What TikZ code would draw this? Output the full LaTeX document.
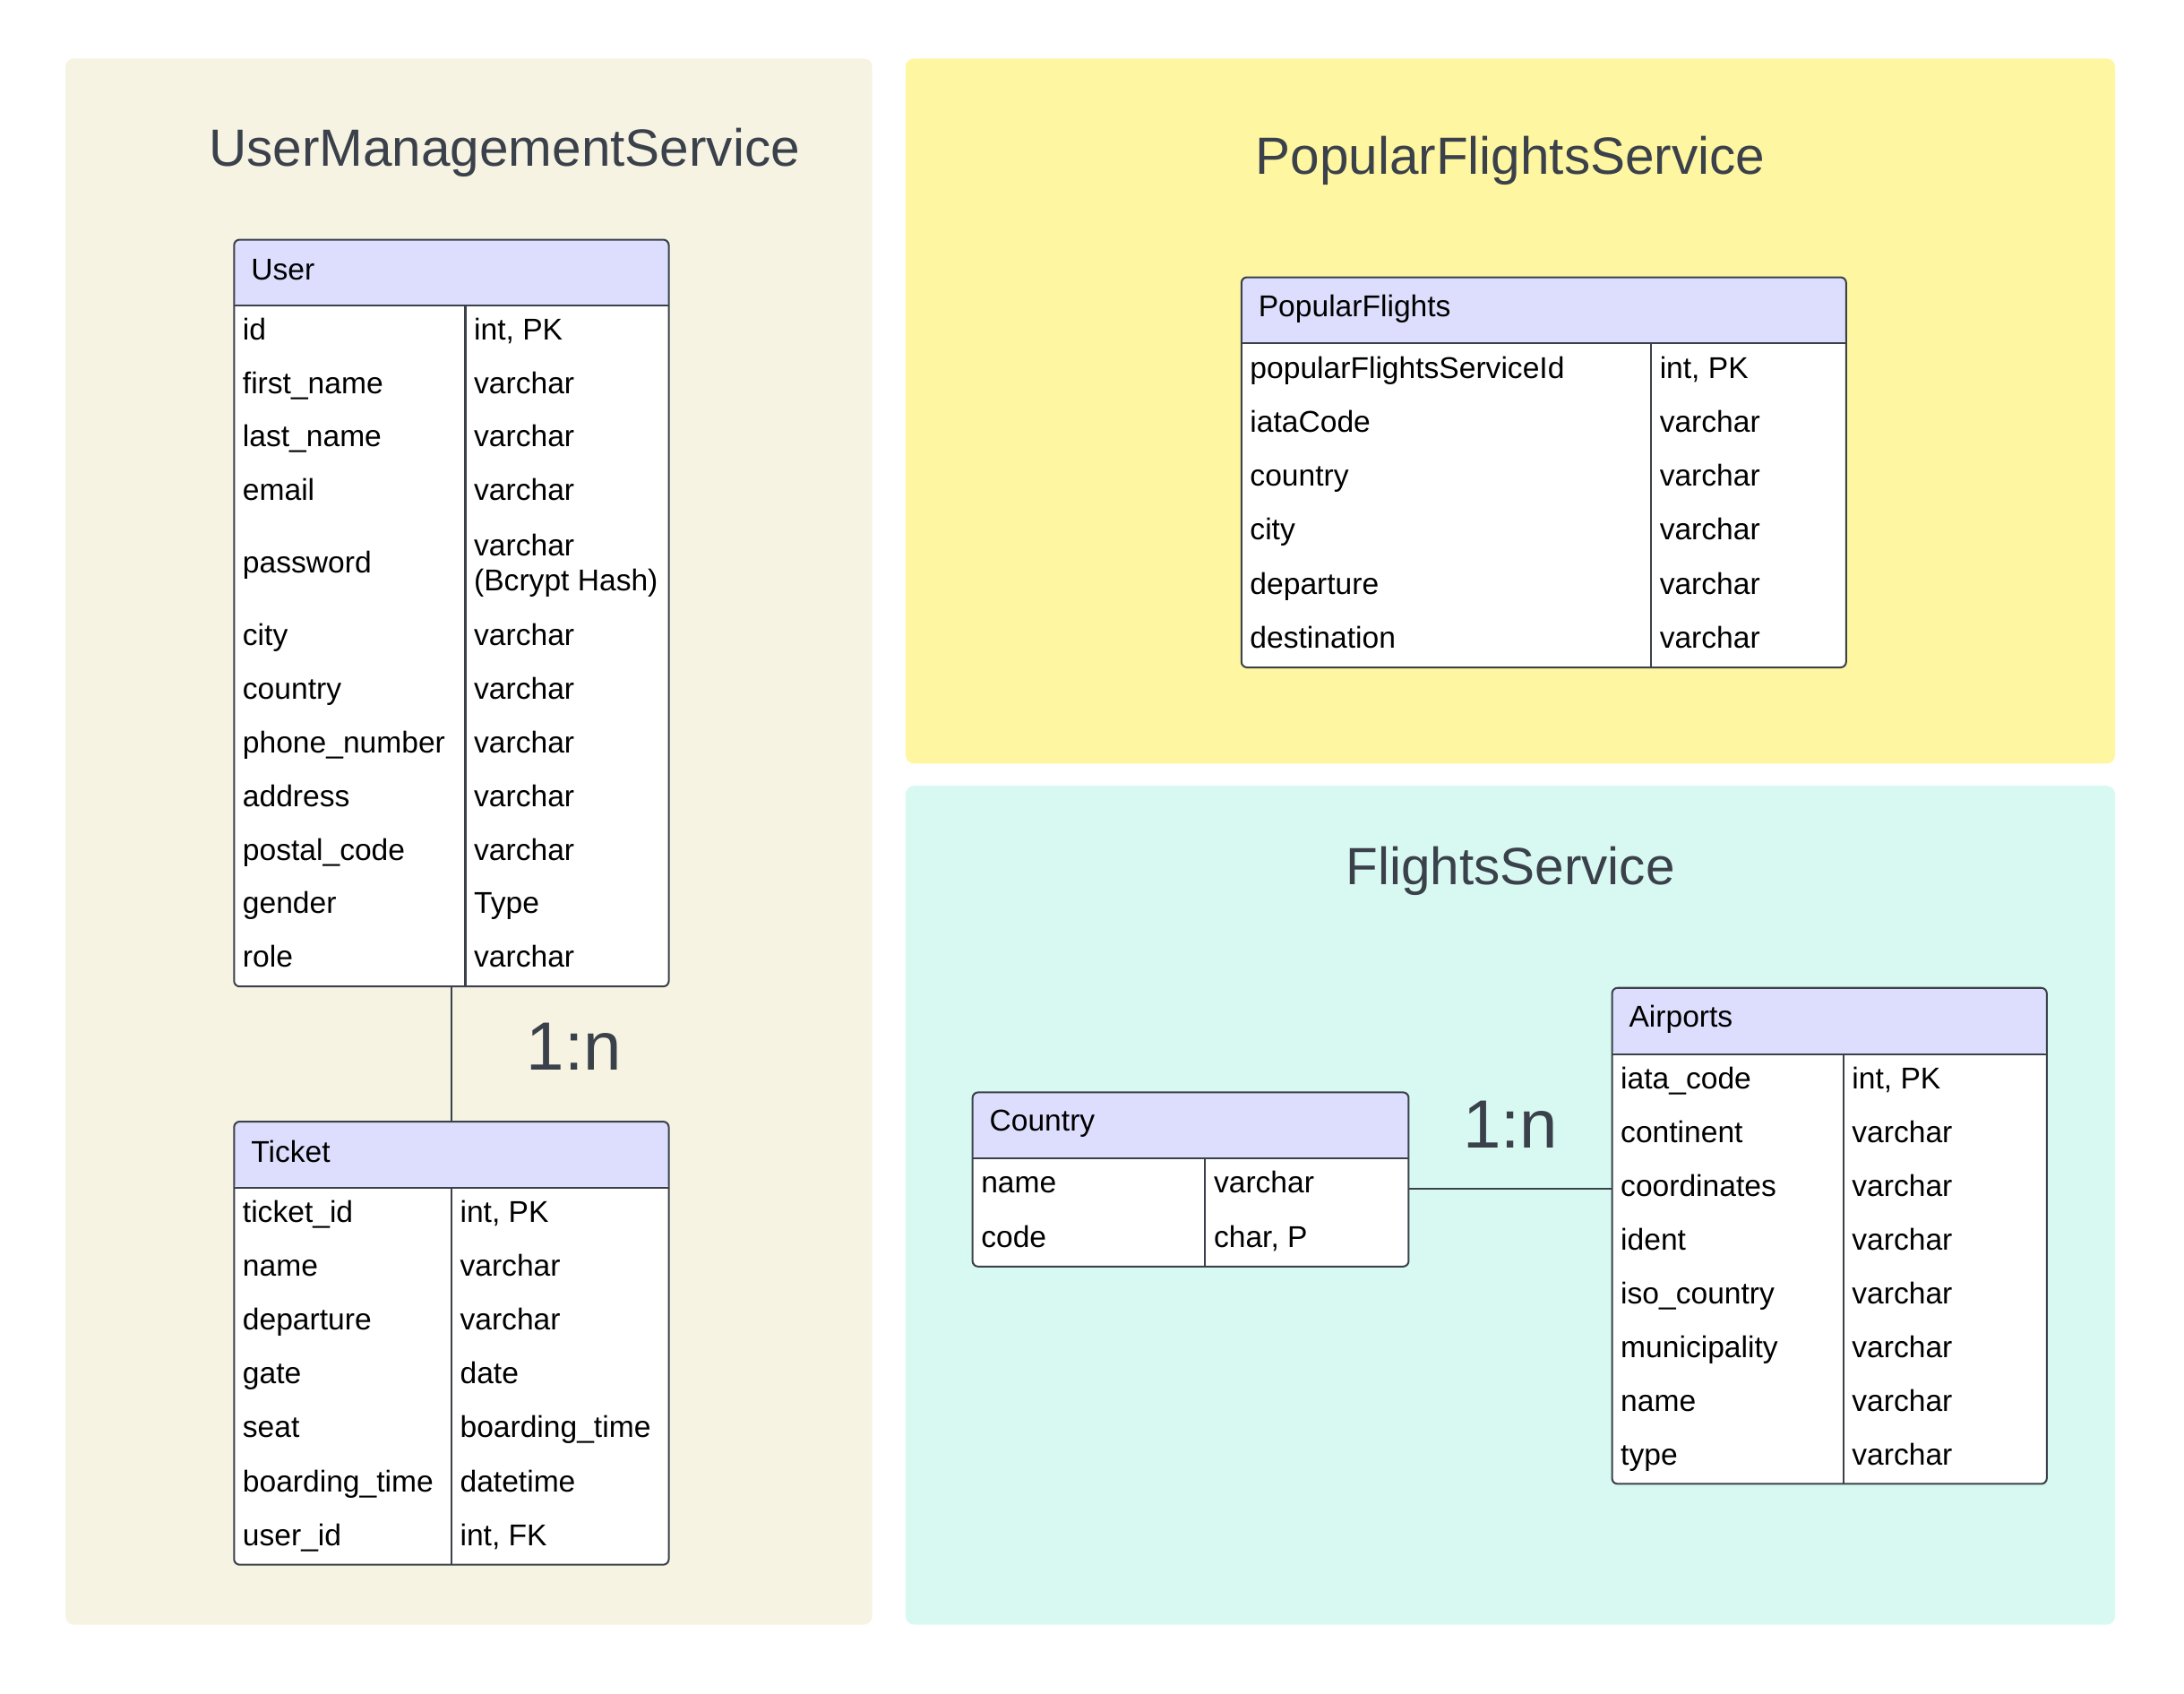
\documentclass[tikz,border=0pt]{standalone}
\usepackage{fontspec}
\setmainfont{Liberation Sans}
\definecolor{umsbg}{HTML}{F6F3E3}
\definecolor{pfsbg}{HTML}{FFF6A1}
\definecolor{fsbg}{HTML}{D7F9F2}
\definecolor{headbg}{HTML}{DDDEFD}
\definecolor{ink}{HTML}{3A414A}

\begin{document}
\begin{tikzpicture}[x=1pt, y=-1pt,
	every node/.append style={text=black, font=\fontsize{21.6}{25}\selectfont},
	panel/.style={fill=#1, rounded corners=6, inner sep=0, outer sep=0, anchor=north west},
	title/.style={text=ink, anchor=base, font=\fontsize{37.6}{42}\selectfont},
	card/.style={text=ink, anchor=base, font=\fontsize{49}{54}\selectfont},
	tbl/.style={draw=ink, fill=white, line width=1.3, rounded corners=4, inner sep=0, outer sep=0, anchor=north west,
		path picture={\fill[headbg] (path picture bounding box.north west) rectangle ([yshift=-47.5pt]path picture bounding box.north east);}},
	rule/.style={draw=ink, line width=1.3},
	link/.style={draw=ink, line width=1.2},
	head/.style={anchor=west, inner sep=0},
	field/.style={anchor=west, inner sep=0, text height=15pt, text depth=4pt},
	twoline/.style={anchor=west, inner sep=0, align=left}]

	\useasboundingbox (0,0) rectangle (1567.5,1215.3);

	% service panels
	\node[panel=umsbg, minimum width=579, minimum height=1124] (ums) at (47,42) {};
	\node[panel=pfsbg, minimum width=868, minimum height=506] (pfs) at (650,42) {};
	\node[panel=fsbg, minimum width=868, minimum height=602] (fs) at (650,564) {};

	\node[title] (umsT) at (362,119) {UserManagementService};
	\node[title] (pfsT) at (1084,125) {PopularFlightsService};
	\node[title] (fsT) at (1084,635) {FlightsService};

	% User
	\node[tbl, minimum width=312, minimum height=536] (user) at (168,172) {};
	\node[head] (userH) at (180,193.5) {User};
	\draw[rule] ([yshift=-47.5pt]user.north west) -- ([yshift=-47.5pt]user.north east);
	\draw[rule] ([xshift=166pt, yshift=-47.5pt]user.north west) -- ([xshift=166pt]user.south west);
	\foreach \i/\fn/\ty in {1/id/{int, PK}, 2/first\_name/varchar, 3/last\_name/varchar, 4/email/varchar}
	{
		\node[field] (uf\i) at (174, 199.75+38.5*\i) {\fn};
		\node[field] (ut\i) at (340, 199.75+38.5*\i) {\ty};
	}
	\node[field] (uf5) at (174,405.75) {password};
	\node[twoline] (ut5) at (340,405.75) {varchar\\(Bcrypt Hash)};
	\foreach \i/\fn/\ty in {6/city/varchar, 7/country/varchar, 8/phone\_number/varchar, 9/address/varchar,
		10/postal\_code/varchar, 11/gender/Type, 12/role/varchar}
	{
		\node[field] (uf\i) at (174, 226.75+38.5*\i) {\fn};
		\node[field] (ut\i) at (340, 226.75+38.5*\i) {\ty};
	}

	% Ticket
	\node[tbl, minimum width=312, minimum height=318] (ticket) at (168,805) {};
	\node[head] (ticketH) at (180,826.5) {Ticket};
	\draw[rule] ([yshift=-47.5pt]ticket.north west) -- ([yshift=-47.5pt]ticket.north east);
	\draw[rule] ([xshift=156pt, yshift=-47.5pt]ticket.north west) -- ([xshift=156pt]ticket.south west);
	\foreach \i/\fn/\ty in {1/ticket\_id/{int, PK}, 2/name/varchar, 3/departure/varchar, 4/gate/date,
		5/seat/boarding\_time, 6/boarding\_time/datetime, 7/user\_id/{int, FK}}
	{
		\node[field] (tf\i) at (174, 833.18+38.64*\i) {\fn};
		\node[field] (tt\i) at (330, 833.18+38.64*\i) {\ty};
	}

	\draw[link] (user.south) -- (ticket.north);
	\node[card] (utN) at (412,768) {1:n};

	% PopularFlights
	\node[tbl, minimum width=434, minimum height=280] (popular) at (891,199) {};
	\node[head] (popularH) at (903,221.5) {PopularFlights};
	\draw[rule] ([yshift=-47.5pt]popular.north west) -- ([yshift=-47.5pt]popular.north east);
	\draw[rule] ([xshift=294pt, yshift=-47.5pt]popular.north west) -- ([xshift=294pt]popular.south west);
	\foreach \i/\fn/\ty in {1/popularFlightsServiceId/{int, PK}, 2/iataCode/varchar, 3/country/varchar,
		4/city/varchar, 5/departure/varchar, 6/destination/varchar}
	{
		\node[field] (pf\i) at (897, 227.13+38.75*\i) {\fn};
		\node[field] (pt\i) at (1191, 227.13+38.75*\i) {\ty};
	}

	% Country
	\node[tbl, minimum width=313, minimum height=125] (country) at (698,784) {};
	\node[head] (countryH) at (710,806.5) {Country};
	\draw[rule] ([yshift=-47.5pt]country.north west) -- ([yshift=-47.5pt]country.north east);
	\draw[rule] ([xshift=167pt, yshift=-47.5pt]country.north west) -- ([xshift=167pt]country.south west);
	\foreach \i/\fn/\ty in {1/name/varchar, 2/code/{char, P}}
	{
		\node[field] (cf\i) at (704, 812.13+38.75*\i) {\fn};
		\node[field] (ct\i) at (871, 812.13+38.75*\i) {\ty};
	}

	% Airports
	\node[tbl, minimum width=312, minimum height=356] (airports) at (1157,709) {};
	\node[head] (airportsH) at (1169,731.5) {Airports};
	\draw[rule] ([yshift=-47.5pt]airports.north west) -- ([yshift=-47.5pt]airports.north east);
	\draw[rule] ([xshift=166pt, yshift=-47.5pt]airports.north west) -- ([xshift=166pt]airports.south west);
	\foreach \i/\fn/\ty in {1/iata\_code/{int, PK}, 2/continent/varchar, 3/coordinates/varchar, 4/ident/varchar,
		5/iso\_country/varchar, 6/municipality/varchar, 7/name/varchar, 8/type/varchar}
	{
		\node[field] (af\i) at (1163, 737.22+38.56*\i) {\fn};
		\node[field] (at\i) at (1329, 737.22+38.56*\i) {\ty};
	}

	\draw[link] (country.east |- af3.west) -- (airports.west |- af3.west);
	\node[card] (caN) at (1084,824) {1:n};

\end{tikzpicture}
\end{document}
